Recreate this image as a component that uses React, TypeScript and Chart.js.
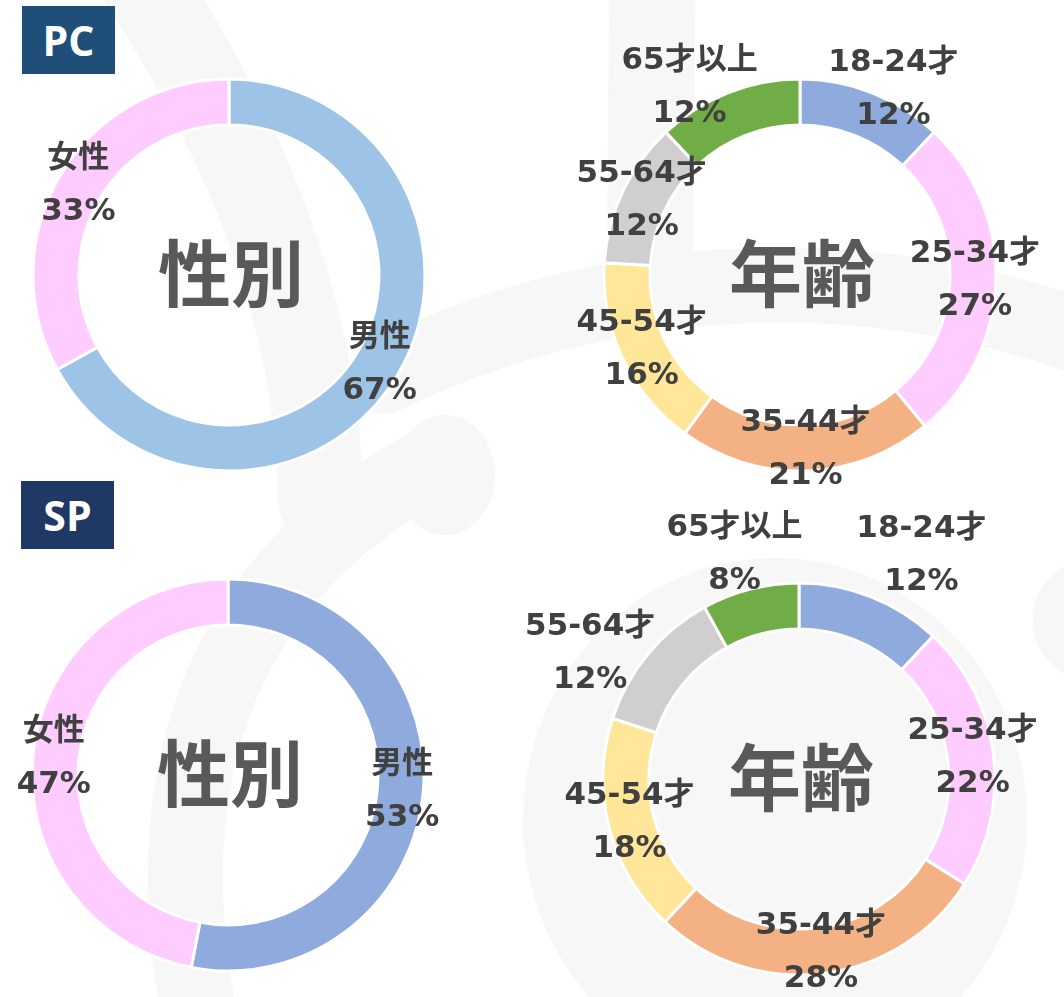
import React, { useEffect, useRef } from "react";
import { Chart, registerables } from "chart.js";

Chart.register(...registerables);

const W = 1064;
const H = 997;

// ---- data ----
const genderLabels = ["男性", "女性"];
const pcGender = [67, 33];
const spGender = [53, 47];

const ageLabels = ["18-24才", "25-34才", "35-44才", "45-54才", "55-64才", "65才以上"];
const pcAge = [12, 27, 21, 16, 12, 12];
const spAge = [12, 22, 28, 18, 12, 8];

// ---- styles ----
const pcGenderColors = ["#9DC3E6", "#FFCCFF"];
const spGenderColors = ["#8FAADC", "#FFCCFF"];
const ageColors = ["#8FAADC", "#FFCCFF", "#F4B183", "#FFE699", "#D0CECE", "#70AD47"];

// label nudges (pixels) for labels moved off their slice
const noNudge = [[0, 0], [0, 0]];
const pcAgeNudge = [[29, -23], [0, 0], [0, 0], [0, 0], [0, 0], [-46, -25]];
const spAgeNudge = [[58, -61], [0, 0], [0, 0], [0, 0], [-74, -14], [-21, -55]];

const OUTER = 196;
const INNER = 150;

type ChartSpec = {
  title: string;
  labels: string[];
  values: number[];
  colors: string[];
  nudge: number[][];
  center: [number, number];
};

const specs: ChartSpec[] = [
  { title: "性別", labels: genderLabels, values: pcGender, colors: pcGenderColors, nudge: noNudge, center: [229, 275] },
  { title: "年齢", labels: ageLabels, values: pcAge, colors: ageColors, nudge: pcAgeNudge, center: [800, 275] },
  { title: "性別", labels: genderLabels, values: spGender, colors: spGenderColors, nudge: noNudge, center: [228, 775] },
  { title: "年齢", labels: ageLabels, values: spAge, colors: ageColors, nudge: spAgeNudge, center: [799, 779] },
];

const LABEL_FONT = 'bold 31px "DejaVu Sans", "Noto Sans CJK JP", sans-serif';
const TITLE_FONT = 'bold 73px "Noto Sans CJK JP", sans-serif';

function makeLabelPlugin(title: string, nudge: number[][]) {
  return {
    id: "ringLabels",
    afterDatasetsDraw(chart: any) {
      const ctx: CanvasRenderingContext2D = chart.ctx;
      const meta = chart.getDatasetMeta(0);
      const data = chart.data.datasets[0].data as number[];
      const labels = chart.data.labels as string[];
      ctx.save();
      ctx.textAlign = "center";
      ctx.textBaseline = "middle";
      let cx0 = 0;
      let cy0 = 0;
      meta.data.forEach((arc: any, i: number) => {
        const p = arc.getProps(["x", "y", "startAngle", "endAngle", "innerRadius", "outerRadius"], true);
        cx0 = p.x;
        cy0 = p.y;
        const mid = (p.startAngle + p.endAngle) / 2;
        const r = (p.innerRadius + p.outerRadius) / 2 + 2;
        const n = nudge[i] || [0, 0];
        const lx = p.x + Math.cos(mid) * r + n[0];
        const ly = p.y + Math.sin(mid) * r + n[1];
        ctx.font = LABEL_FONT;
        ctx.fillStyle = "#404040";
        ctx.fillText(labels[i], lx, ly - 26.5);
        ctx.fillText(data[i] + "%", lx, ly + 26.5);
      });
      ctx.font = TITLE_FONT;
      ctx.fillStyle = "#595959";
      ctx.fillText(title, cx0 + 2, cy0 - 2);
      ctx.restore();
    },
  };
}

function DonutCanvas({ spec }: { spec: ChartSpec }) {
  const ref = useRef<HTMLCanvasElement | null>(null);
  useEffect(() => {
    if (!ref.current) return;
    const [cx, cy] = spec.center;
    const padding = {
      left: Math.max(0, 2 * cx - W),
      right: Math.max(0, W - 2 * cx),
      top: Math.max(0, 2 * cy - H),
      bottom: Math.max(0, H - 2 * cy),
    };
    const chart = new Chart(ref.current, {
      type: "doughnut",
      data: {
        labels: spec.labels,
        datasets: [
          {
            data: spec.values,
            backgroundColor: spec.colors,
            borderColor: "#FFFFFF",
            borderWidth: 3,
          },
        ],
      },
      options: {
        responsive: false,
        animation: false,
        events: [],
        radius: OUTER,
        cutout: (INNER / OUTER) * 100 + "%",
        layout: { padding },
        plugins: {
          legend: { display: false },
          tooltip: { enabled: false },
        },
      } as any,
      plugins: [makeLabelPlugin(spec.title, spec.nudge)],
    });
    return () => chart.destroy();
  }, [spec]);
  return (
    <canvas
      ref={ref}
      width={W}
      height={H}
      style={{ position: "absolute", left: 0, top: 0, width: W, height: H }}
    />
  );
}

function Backdrop() {
  const ref = useRef<HTMLCanvasElement | null>(null);
  useEffect(() => {
    const c = ref.current;
    if (!c) return;
    const ctx = c.getContext("2d");
    if (!ctx) return;
    ctx.clearRect(0, 0, W, H);
    ctx.strokeStyle = "#F7F7F7";
    ctx.fillStyle = "#F7F7F7";
    ctx.lineCap = "round";
    // diagonal band through top-left
    ctx.lineWidth = 85;
    ctx.beginPath();
    ctx.moveTo(135, -30);
    ctx.quadraticCurveTo(320, 250, 320, 500);
    ctx.stroke();
    // big arc band across the top right
    ctx.lineWidth = 75;
    ctx.beginPath();
    ctx.arc(780, 1190, 905, (-116 * Math.PI) / 180, (-66 * Math.PI) / 180);
    ctx.stroke();
    // vertical band near top middle
    ctx.lineWidth = 86;
    ctx.lineCap = "butt";
    ctx.beginPath();
    ctx.moveTo(652, -10);
    ctx.lineTo(650, 260);
    ctx.stroke();
    ctx.lineCap = "round";
    // hook blob
    ctx.beginPath();
    ctx.ellipse(445, 475, 50, 60, 0, 0, Math.PI * 2);
    ctx.fill();
    // lower left band
    ctx.lineWidth = 75;
    ctx.beginPath();
    ctx.moveTo(420, 470);
    ctx.bezierCurveTo(230, 580, 150, 760, 200, 1020);
    ctx.stroke();
    // disc behind lower right chart
    ctx.beginPath();
    ctx.ellipse(775, 820, 252, 262, 0, 0, Math.PI * 2);
    ctx.fill();
    // right blob
    ctx.beginPath();
    ctx.arc(1095, 620, 62, 0, Math.PI * 2);
    ctx.fill();
  }, []);
  return (
    <canvas
      ref={ref}
      width={W}
      height={H}
      style={{ position: "absolute", left: 0, top: 0, width: W, height: H }}
    />
  );
}

const badgeBase: React.CSSProperties = {
  position: "absolute",
  width: 93,
  height: 68,
  color: "#FFFFFF",
  fontFamily: '"Open Sans", "Noto Sans", "DejaVu Sans", sans-serif',
  fontWeight: 700,
  fontSize: 41,
  display: "flex",
  alignItems: "center",
  justifyContent: "center",
  lineHeight: 1,
};

export default function App() {
  useEffect(() => {
    document.body.style.margin = "0";
  }, []);
  return (
    <div
      style={{
        position: "absolute",
        left: 0,
        top: 0,
        width: W,
        height: H,
        overflow: "hidden",
        background: "#FFFFFF",
      }}
    >
      <Backdrop />
      {specs.map((s, i) => (
        <DonutCanvas key={i} spec={s} />
      ))}
      <div style={{ ...badgeBase, left: 22, top: 6, background: "#1F4E79" }}>PC</div>
      <div style={{ ...badgeBase, left: 21, top: 481, background: "#203864" }}>SP</div>
    </div>
  );
}
